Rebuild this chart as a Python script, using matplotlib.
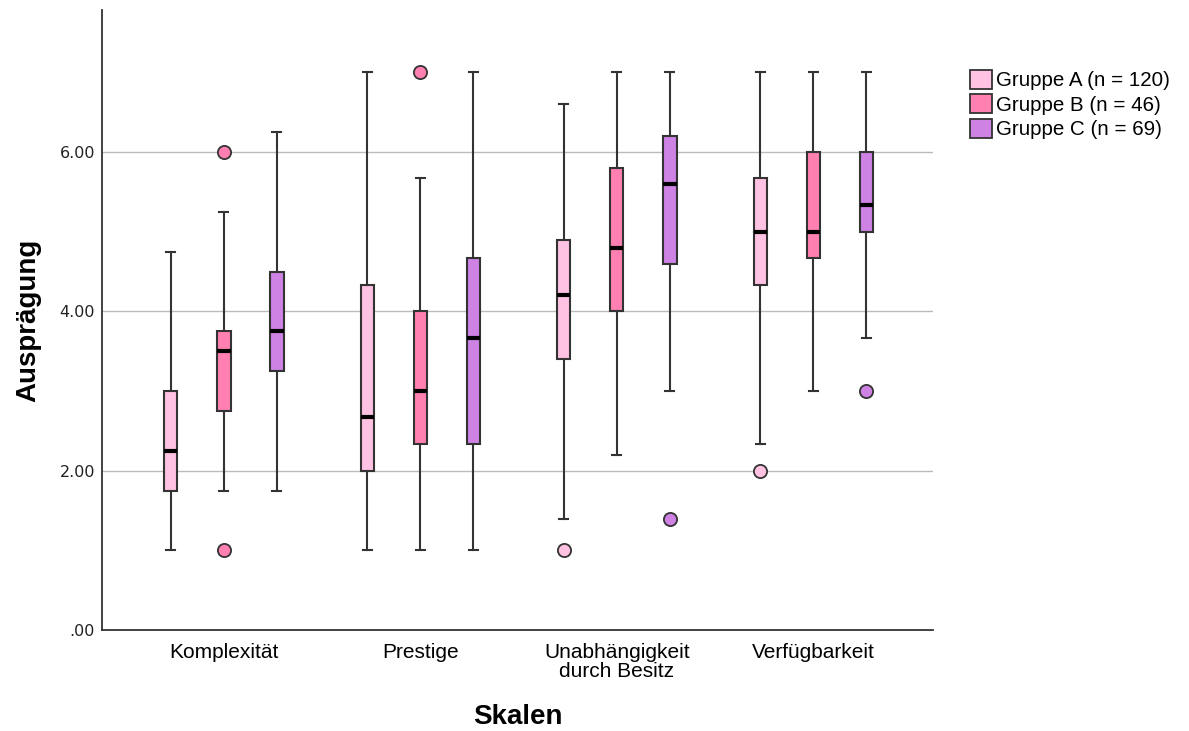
import matplotlib.pyplot as plt
from matplotlib.patches import Patch
import numpy as np

# Box statistics per scale (order: Gruppe A, B, C)
skalen = ['Komplexität', 'Prestige', 'Unabhängigkeit\ndurch Besitz', 'Verfügbarkeit']
gruppen = ['Gruppe A (n = 120)', 'Gruppe B (n = 46)', 'Gruppe C (n = 69)']
farben = ['#FFC2E2', '#FF80B1', '#CD82E4']

median = [[2.25, 3.50, 3.75], [2.67, 3.00, 3.67], [4.20, 4.80, 5.60], [5.00, 5.00, 5.33]]
q1 = [[1.75, 2.75, 3.25], [2.00, 2.33, 2.33], [3.40, 4.00, 4.60], [4.33, 4.67, 5.00]]
q3 = [[3.00, 3.75, 4.50], [4.33, 4.00, 4.67], [4.90, 5.80, 6.20], [5.67, 6.00, 6.00]]
whis_lo = [[1.00, 1.75, 1.75], [1.00, 1.00, 1.00], [1.40, 2.20, 3.00], [2.33, 3.00, 3.67]]
whis_hi = [[4.75, 5.25, 6.25], [7.00, 5.67, 7.00], [6.60, 7.00, 7.00], [7.00, 7.00, 7.00]]
ausreisser = [[[], [6.0, 1.0], []], [[], [7.0], []], [[1.0], [], [1.4]], [[2.0], [], [3.0]]]

fig = plt.figure(figsize=(11.89, 7.31), dpi=100)
ax = fig.add_axes([0.0858, 0.138, 0.699, 0.848])

offsets = [-0.27, 0.0, 0.27]
for g in range(3):
    stats = []
    for s in range(len(skalen)):
        stats.append(dict(med=median[s][g], q1=q1[s][g], q3=q3[s][g],
                          whislo=whis_lo[s][g], whishi=whis_hi[s][g],
                          fliers=np.array(ausreisser[s][g])))
    pos = np.arange(len(skalen)) + offsets[g]
    ax.bxp(stats, positions=pos, widths=0.068, capwidths=0.045, patch_artist=True,
           showfliers=True, manage_ticks=False,
           boxprops=dict(facecolor=farben[g], edgecolor='#333333', linewidth=1.5),
           medianprops=dict(color='black', linewidth=3),
           whiskerprops=dict(color='#333333', linewidth=1.5),
           capprops=dict(color='#333333', linewidth=1.5),
           flierprops=dict(marker='o', markersize=9.5, markerfacecolor=farben[g],
                           markeredgecolor='#333333', markeredgewidth=1.3))

ax.set_xlim(-0.62, 3.61)
ax.set_ylim(0, 7.78)
ax.set_yticks([0, 2, 4, 6])
ax.set_yticklabels(['.00', '2.00', '4.00', '6.00'], fontsize=11.5, family='DejaVu Sans', color='#222222')
ax.set_xticks(np.arange(len(skalen)))
ax.set_xticklabels(skalen, fontsize=15, family='Liberation Sans', linespacing=1.05)
ax.tick_params(axis='y', length=0, pad=5)
ax.tick_params(axis='x', length=0, pad=9)

for yv in [2, 4, 6]:
    ax.axhline(yv, color='#BBBBBB', linewidth=1.0, zorder=0)

for side in ['top', 'right']:
    ax.spines[side].set_visible(False)
for side in ['left', 'bottom']:
    ax.spines[side].set_color('#333333')
    ax.spines[side].set_linewidth(1.3)

ax.set_xlabel('Skalen', fontsize=20, fontweight='bold', family='Liberation Sans', labelpad=16)
ax.set_ylabel('Ausprägung', fontsize=20, fontweight='bold', family='Liberation Sans', labelpad=13)

handles = [Patch(facecolor=farben[i], edgecolor='#333333', linewidth=1.3, label=gruppen[i]) for i in range(3)]
fig.legend(handles=handles, loc='upper left', bbox_to_anchor=(0.809, 0.916), frameon=False,
           prop={'family': 'Liberation Sans', 'size': 14.8}, handlelength=1.05, handleheight=1.05,
           handletextpad=0.2, labelspacing=0.2, borderaxespad=0)

fig.savefig('out.png', dpi=100)
